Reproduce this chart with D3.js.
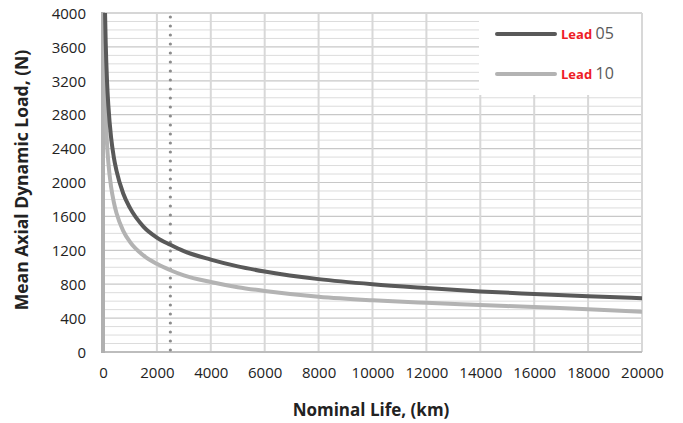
<!DOCTYPE html>
<html><head><meta charset="utf-8">
<script src="https://cdn.jsdelivr.net/npm/d3@7"></script>
<style>body{margin:0;background:#fff}svg{display:block}</style>
</head><body><svg id="c" width="683" height="423"></svg>
<script>
// Nominal life (km) sample points
const lifeKm = [35, 50, 76, 100, 150, 200, 300, 400, 500, 750, 1000, 1500, 2000, 2500, 3000, 4000, 5000, 6000, 8000, 10000, 12000, 14000, 16000, 18000, 20000];
// Mean axial dynamic load (N)
const lead05 = [null, null, 4000, 3655, 3190, 2900, 2530, 2300, 2140, 1870, 1700, 1480, 1350, 1265, 1190, 1090, 1010, 950, 860, 800, 755, 715, 685, 658, 635];
const lead10 = [4000, 3540, 3060, 2810, 2450, 2230, 1950, 1770, 1640, 1430, 1300, 1140, 1040, 965, 905, 826, 765, 720, 652, 610, 580, 555, 530, 505, 475];
const seriesNames = ["05", "10"];
const xTicks = [0, 2000, 4000, 6000, 8000, 10000, 12000, 14000, 16000, 18000, 20000];
const yTicks = [0, 400, 800, 1200, 1600, 2000, 2400, 2800, 3200, 3600, 4000];
const markerLife = 2500;

const svg = d3.select("#c");
const L = 103, R = 642, T = 13, B = 352;
const x = d3.scaleLinear().domain([0, 20000]).range([L, R]);
const y = d3.scaleLinear().domain([0, 4000]).range([B, T]);
const font = "'Open Sans', 'Noto Sans', sans-serif";

// minor horizontal grid
const minor = d3.range(100, 4000, 100).filter(v => v % 400 !== 0);
svg.append("g").selectAll("line").data(minor).join("line")
  .attr("x1", L).attr("x2", R).attr("y1", d => y(d)).attr("y2", d => y(d))
  .attr("stroke", "#dcdcdc").attr("stroke-width", 1);
svg.append("g").selectAll("line").data(yTicks.filter(v => v > 0 && v < 4000)).join("line")
  .attr("x1", L).attr("x2", R).attr("y1", d => y(d)).attr("y2", d => y(d))
  .attr("stroke", "#c8c8c8").attr("stroke-width", 1.2);
// vertical grid
svg.append("g").selectAll("line").data(xTicks.filter(v => v > 0)).join("line")
  .attr("x1", d => x(d)).attr("x2", d => x(d)).attr("y1", T).attr("y2", B)
  .attr("stroke", "#d8d8d8").attr("stroke-width", 2);
// frame
svg.append("line").attr("x1", L).attr("x2", R).attr("y1", T).attr("y2", T).attr("stroke", "#d6d6d6").attr("stroke-width", 2);
svg.append("line").attr("x1", L).attr("x2", R).attr("y1", B).attr("y2", B).attr("stroke", "#bdbdbd").attr("stroke-width", 2);
svg.append("line").attr("x1", L).attr("x2", L).attr("y1", T - 1).attr("y2", B + 1).attr("stroke", "#b0b0b0").attr("stroke-width", 4);

// clip
svg.append("clipPath").attr("id", "pc").append("rect").attr("x", L).attr("y", T).attr("width", R - L).attr("height", B - T);

// legend box
const lg = svg.append("g");
lg.append("rect").attr("x", 479).attr("y", 14).attr("width", 162).attr("height", 81).attr("fill", "#fff");

// dotted marker line
svg.append("g").selectAll("circle").data(d3.range(T + 4, B + 4, 9)).join("circle")
  .attr("cx", x(markerLife)).attr("cy", d => d).attr("r", 1.6).attr("fill", "#8c8c8c");

// curves
const colors = ["#595959", "#b3b3b3"];
const series = [lead05, lead10];
const line = d3.line().defined(d => d[1] != null).x(d => x(d[0])).y(d => y(d[1])).curve(d3.curveMonotoneX);
series.slice().reverse().forEach((s, i) => {
  const idx = series.length - 1 - i;
  svg.append("path").datum(lifeKm.map((l, j) => [l, s[j]]))
    .attr("clip-path", "url(#pc)")
    .attr("d", line).attr("fill", "none").attr("stroke", colors[idx]).attr("stroke-width", 4)
    .attr("stroke-linecap", "round");
});

// legend content
seriesNames.forEach((n, i) => {
  const yy = 34 + i * 40;
  lg.append("line").attr("x1", 497).attr("x2", 555).attr("y1", yy).attr("y2", yy)
    .attr("stroke", colors[i]).attr("stroke-width", 4).attr("stroke-linecap", "round");
  const t = lg.append("text").attr("x", 561).attr("y", yy + 5).attr("font-family", font);
  t.append("tspan").text("Lead ").attr("fill", "#ee1c25").attr("font-weight", "bold").attr("font-size", 13);
  t.append("tspan").text(n).attr("fill", "#595959").attr("font-size", 16);
});

// axes labels
const yAxis = d3.axisLeft(y).tickValues(yTicks).tickSize(0).tickPadding(17).tickFormat(d3.format("d"));
const gy = svg.append("g").attr("transform", `translate(${L},0)`).call(yAxis);
gy.select(".domain").remove();
gy.selectAll("text").attr("font-family", font).attr("font-size", 15).attr("fill", "#222").attr("dy", "0.35em");

const xAxis = d3.axisBottom(x).tickValues(xTicks).tickSize(0).tickPadding(15).tickFormat(d3.format("d"));
const gx = svg.append("g").attr("transform", `translate(0,${B})`).call(xAxis);
gx.select(".domain").remove();
gx.selectAll("text").attr("font-family", font).attr("font-size", 15).attr("fill", "#222");

svg.append("text").attr("x", 371).attr("y", 416).attr("text-anchor", "middle")
  .attr("font-family", font).attr("font-weight", "bold").attr("font-size", 17).attr("fill", "#222")
  .text("Nominal Life, (km)");
svg.append("text").attr("transform", "translate(28,180) rotate(-90)").attr("text-anchor", "middle")
  .attr("font-family", font).attr("font-weight", "bold").attr("font-size", 17.5).attr("fill", "#222")
  .text("Mean Axial Dynamic Load, (N)");
</script></body></html>
